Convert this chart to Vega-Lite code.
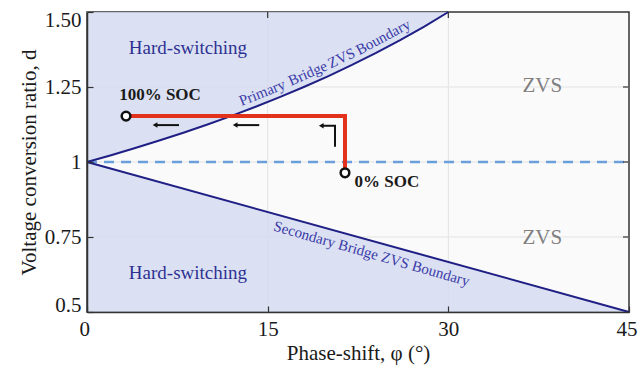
{
  "$schema": "https://vega.github.io/schema/vega-lite/v6.json",
  "autosize": {"type": "none"},
  "padding": {"left": 87, "top": 12, "right": 13, "bottom": 53},
  "width": 542,
  "height": 300,
  "config": {
    "font": "Liberation Serif",
    "view": {"fill": "#fafafa", "stroke": "#333333", "strokeWidth": 1.5},
    "axis": {
      "labelFont": "Liberation Serif",
      "titleFont": "Liberation Serif",
      "labelColor": "#1a1a1a",
      "titleColor": "#1a1a1a",
      "titleFontWeight": "normal",
      "domainColor": "#333333",
      "domainWidth": 1.5,
      "tickColor": "#333333",
      "tickWidth": 1.2,
      "grid": false
    }
  },
  "layer": [
    {
      "data": {"values": [{"phi": 15}, {"phi": 30}]},
      "mark": {"type": "rule", "color": "#e3e3e3", "strokeWidth": 1},
      "encoding": {
        "x": {"field": "phi", "type": "quantitative",
          "scale": {"domain": [0, 45], "nice": false, "zero": false},
          "axis": {"orient": "bottom", "values": [0, 15, 30, 45], "title": "Phase-shift, φ (°)", "format": "d",
            "labelFontSize": 21, "titleFontSize": 21, "tickSize": -6, "labelPadding": 12, "titlePadding": 3,
            "labelFlush": true, "labelFlushOffset": 8, "zindex": 1}}
      }
    },
    {
      "data": {"values": [{"d": 0.75}, {"d": 1}, {"d": 1.25}]},
      "mark": {"type": "rule", "color": "#e3e3e3", "strokeWidth": 1},
      "encoding": {
        "y": {"field": "d", "type": "quantitative",
          "scale": {"domain": [0.5, 1.5], "nice": false, "zero": false},
          "axis": {"orient": "left", "values": [0.5, 0.75, 1, 1.25, 1.5], "title": "Voltage conversion ratio, d",
            "format": ".2~f",
            "labelExpr": "datum.value == 1.5 ? '1.50' : datum.label",
            "labelFontSize": 21, "titleFontSize": 21, "tickSize": -6, "labelPadding": 12, "titlePadding": 5,
            "labelFlush": true, "labelFlushOffset": 3, "zindex": 1}}
      }
    },
    {
      "data": {"values": [
        {"phi": 0, "d": 1}, {"phi": 2, "d": 1.0227}, {"phi": 4, "d": 1.0465}, {"phi": 6, "d": 1.0714},
        {"phi": 8, "d": 1.0976}, {"phi": 10, "d": 1.125}, {"phi": 12, "d": 1.1538}, {"phi": 14, "d": 1.1842},
        {"phi": 16, "d": 1.2162}, {"phi": 18, "d": 1.25}, {"phi": 20, "d": 1.2857}, {"phi": 22, "d": 1.3235},
        {"phi": 24, "d": 1.3636}, {"phi": 26, "d": 1.4063}, {"phi": 28, "d": 1.4516}, {"phi": 30, "d": 1.5}
      ]},
      "mark": {"type": "area", "color": "#d3dbf0", "opacity": 0.8},
      "encoding": {
        "x": {"field": "phi", "type": "quantitative"},
        "y": {"field": "d", "type": "quantitative"},
        "y2": {"datum": 1.5}
      }
    },
    {
      "data": {"values": [{"phi": 0, "d": 1}, {"phi": 45, "d": 0.5}]},
      "mark": {"type": "area", "color": "#d3dbf0", "opacity": 0.8},
      "encoding": {
        "x": {"field": "phi", "type": "quantitative"},
        "y": {"field": "d", "type": "quantitative"},
        "y2": {"datum": 0.5}
      }
    },
    {
      "data": {"values": [{"phi": 0, "d": 1}, {"phi": 45, "d": 1}]},
      "mark": {"type": "line", "color": "#6b9fdc", "strokeWidth": 2.5, "strokeDash": [10, 7]},
      "encoding": {
        "x": {"field": "phi", "type": "quantitative"},
        "y": {"field": "d", "type": "quantitative"}
      }
    },
    {
      "data": {"values": [
        {"phi": 0, "d": 1}, {"phi": 2, "d": 1.0227}, {"phi": 4, "d": 1.0465}, {"phi": 6, "d": 1.0714},
        {"phi": 8, "d": 1.0976}, {"phi": 10, "d": 1.125}, {"phi": 12, "d": 1.1538}, {"phi": 14, "d": 1.1842},
        {"phi": 16, "d": 1.2162}, {"phi": 18, "d": 1.25}, {"phi": 20, "d": 1.2857}, {"phi": 22, "d": 1.3235},
        {"phi": 24, "d": 1.3636}, {"phi": 26, "d": 1.4063}, {"phi": 28, "d": 1.4516}, {"phi": 30, "d": 1.5}
      ]},
      "mark": {"type": "line", "color": "#1f1f85", "strokeWidth": 2},
      "encoding": {
        "x": {"field": "phi", "type": "quantitative"},
        "y": {"field": "d", "type": "quantitative"}
      }
    },
    {
      "data": {"values": [{"phi": 0, "d": 1}, {"phi": 45, "d": 0.5}]},
      "mark": {"type": "line", "color": "#1f1f85", "strokeWidth": 2},
      "encoding": {
        "x": {"field": "phi", "type": "quantitative"},
        "y": {"field": "d", "type": "quantitative"}
      }
    },
    {
      "data": {"values": [{"phi": 15, "d": 1.5}, {"phi": 30, "d": 1.5}]},
      "mark": {"type": "tick", "orient": "vertical", "color": "#333333", "size": 6, "thickness": 1.2, "yOffset": 3, "opacity": 1},
      "encoding": {
        "x": {"field": "phi", "type": "quantitative"},
        "y": {"field": "d", "type": "quantitative"}
      }
    },
    {
      "data": {"values": [{"phi": 45, "d": 0.75}, {"phi": 45, "d": 1}, {"phi": 45, "d": 1.25}]},
      "mark": {"type": "tick", "orient": "horizontal", "color": "#333333", "size": 6, "thickness": 1.2, "xOffset": -3, "opacity": 1},
      "encoding": {
        "x": {"field": "phi", "type": "quantitative"},
        "y": {"field": "d", "type": "quantitative"}
      }
    },
    {
      "data": {"values": [
        {"phi": 3.24, "d": 1.153, "o": 1},
        {"phi": 21.42, "d": 1.153, "o": 2},
        {"phi": 21.42, "d": 0.967, "o": 3}
      ]},
      "mark": {"type": "line", "color": "#e3321c", "strokeWidth": 4, "strokeJoin": "miter"},
      "encoding": {
        "x": {"field": "phi", "type": "quantitative"},
        "y": {"field": "d", "type": "quantitative"},
        "order": {"field": "o"}
      }
    },
    {
      "data": {"values": [
        {"id": "a1", "o": 1, "phi": 5.7, "d": 1.123},
        {"id": "a1", "o": 2, "phi": 7.64, "d": 1.123},
        {"id": "a2", "o": 1, "phi": 12.35, "d": 1.123},
        {"id": "a2", "o": 2, "phi": 14.3, "d": 1.123},
        {"id": "a3", "o": 1, "phi": 20.59, "d": 1.051},
        {"id": "a3", "o": 2, "phi": 20.59, "d": 1.121},
        {"id": "a3", "o": 3, "phi": 19.5, "d": 1.121}
      ]},
      "mark": {"type": "line", "color": "#111111", "strokeWidth": 2},
      "encoding": {
        "x": {"field": "phi", "type": "quantitative"},
        "y": {"field": "d", "type": "quantitative"},
        "detail": {"field": "id"},
        "order": {"field": "o"}
      }
    },
    {
      "data": {"values": [
        {"phi": 5.65, "d": 1.123},
        {"phi": 12.3, "d": 1.123},
        {"phi": 19.45, "d": 1.121}
      ]},
      "mark": {"type": "point", "shape": "triangle-left", "filled": true, "color": "#111111", "size": 30, "opacity": 1},
      "encoding": {
        "x": {"field": "phi", "type": "quantitative"},
        "y": {"field": "d", "type": "quantitative"}
      }
    },
    {
      "data": {"values": [
        {"phi": 3.24, "d": 1.153},
        {"phi": 21.42, "d": 0.964}
      ]},
      "mark": {"type": "point", "shape": "circle", "filled": true, "fill": "#ffffff", "stroke": "#111111", "strokeWidth": 2.5, "size": 75, "opacity": 1},
      "encoding": {
        "x": {"field": "phi", "type": "quantitative"},
        "y": {"field": "d", "type": "quantitative"}
      }
    },
    {
      "data": {"values": [
        {"phi": 8.38, "d": 1.38, "t": "Hard-switching"},
        {"phi": 8.38, "d": 0.63, "t": "Hard-switching"}
      ]},
      "mark": {"type": "text", "font": "Liberation Serif", "fontSize": 19, "color": "#2e3192", "baseline": "middle", "align": "center"},
      "encoding": {
        "x": {"field": "phi", "type": "quantitative"},
        "y": {"field": "d", "type": "quantitative"},
        "text": {"field": "t"}
      }
    },
    {
      "data": {"values": [
        {"phi": 37.8, "d": 1.253, "t": "ZVS"},
        {"phi": 37.8, "d": 0.747, "t": "ZVS"}
      ]},
      "mark": {"type": "text", "font": "Liberation Serif", "fontSize": 21, "color": "#7f7f7f", "baseline": "middle", "align": "center"},
      "encoding": {
        "x": {"field": "phi", "type": "quantitative"},
        "y": {"field": "d", "type": "quantitative"},
        "text": {"field": "t"}
      }
    },
    {
      "data": {"values": [
        {"phi": 6.06, "d": 1.223, "t": "100% SOC"},
        {"phi": 24.9, "d": 0.933, "t": "0% SOC"}
      ]},
      "mark": {"type": "text", "font": "Liberation Serif", "fontSize": 17, "fontWeight": "bold", "color": "#1a1a1a", "baseline": "middle", "align": "center"},
      "encoding": {
        "x": {"field": "phi", "type": "quantitative"},
        "y": {"field": "d", "type": "quantitative"},
        "text": {"field": "t"}
      }
    },
    {
      "data": {"values": [{"phi": 14.54, "d": 1.2317, "t": "Primary"}]},
      "mark": {"type": "text", "font": "Liberation Serif", "fontSize": 15, "color": "#3a3aa8", "baseline": "middle", "align": "center", "angle": 338.3},
      "encoding": {
        "x": {"field": "phi", "type": "quantitative"},
        "y": {"field": "d", "type": "quantitative"},
        "text": {"field": "t"}
      }
    },
    {
      "data": {"values": [{"phi": 18.32, "d": 1.2957, "t": "Bridge"}]},
      "mark": {"type": "text", "font": "Liberation Serif", "fontSize": 15, "color": "#3a3aa8", "baseline": "middle", "align": "center", "angle": 336.2},
      "encoding": {
        "x": {"field": "phi", "type": "quantitative"},
        "y": {"field": "d", "type": "quantitative"},
        "text": {"field": "t"}
      }
    },
    {
      "data": {"values": [{"phi": 21.12, "d": 1.347, "t": "ZVS"}]},
      "mark": {"type": "text", "font": "Liberation Serif", "fontSize": 15, "color": "#3a3aa8", "baseline": "middle", "align": "center", "angle": 334.5},
      "encoding": {
        "x": {"field": "phi", "type": "quantitative"},
        "y": {"field": "d", "type": "quantitative"},
        "text": {"field": "t"}
      }
    },
    {
      "data": {"values": [{"phi": 24.58, "d": 1.417, "t": "Boundary"}]},
      "mark": {"type": "text", "font": "Liberation Serif", "fontSize": 15, "color": "#3a3aa8", "baseline": "middle", "align": "center", "angle": 332.1},
      "encoding": {
        "x": {"field": "phi", "type": "quantitative"},
        "y": {"field": "d", "type": "quantitative"},
        "text": {"field": "t"}
      }
    },
    {
      "data": {"values": [
        {"phi": 23.64, "d": 0.695, "t": "Secondary Bridge ZVS Boundary"}
      ]},
      "mark": {"type": "text", "font": "Liberation Serif", "fontSize": 15, "color": "#3a3aa8", "baseline": "middle", "align": "center", "angle": 16},
      "encoding": {
        "x": {"field": "phi", "type": "quantitative"},
        "y": {"field": "d", "type": "quantitative"},
        "text": {"field": "t"}
      }
    }
  ]
}
